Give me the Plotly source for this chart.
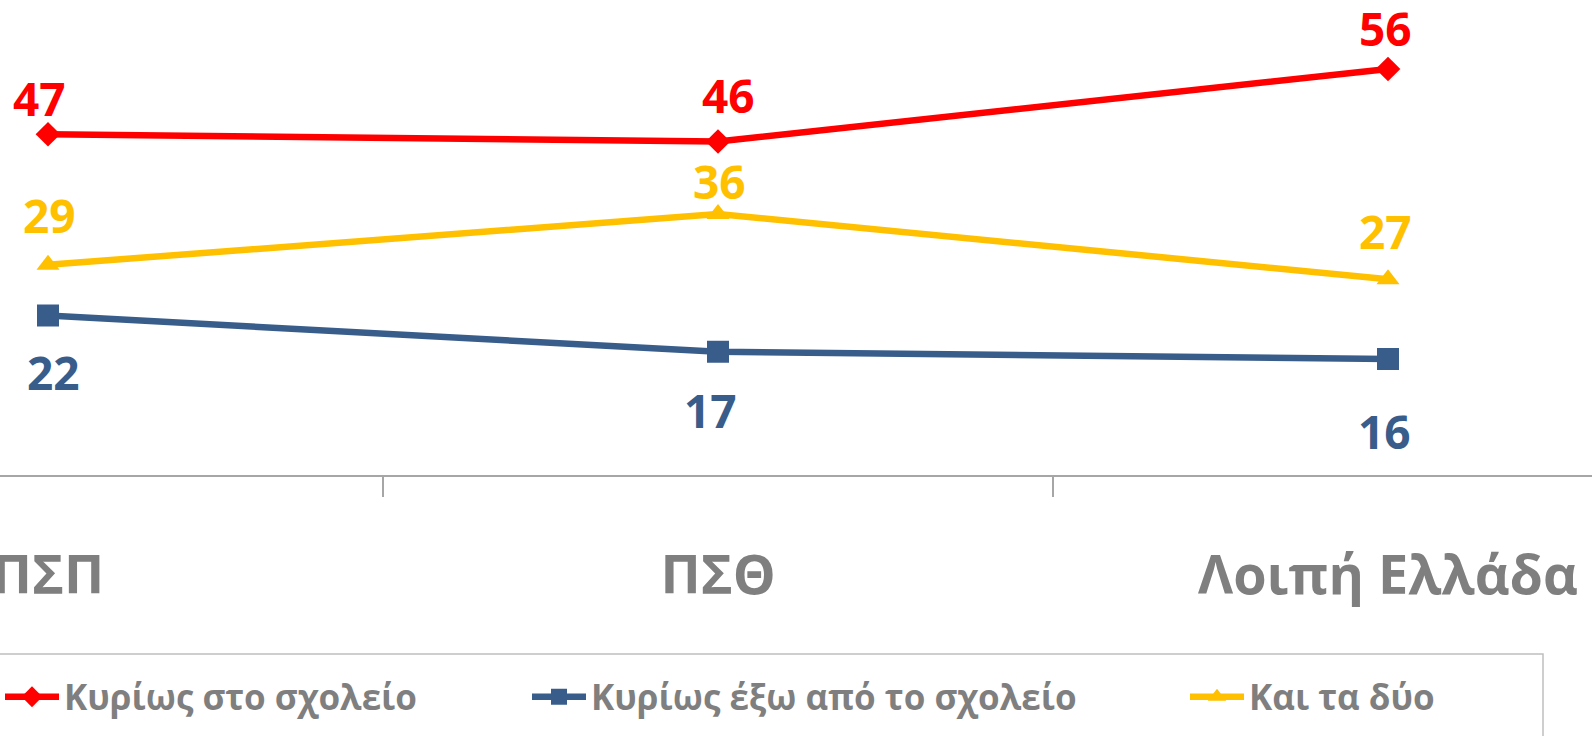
import plotly.graph_objects as go

# ---- data ----
categories = ["ΠΣΠ", "ΠΣΘ", "Λοιπή Ελλάδα"]
series_names = ["Κυρίως στο σχολείο", "Κυρίως έξω από το σχολείο", "Και τα δύο"]
in_school = [47, 46, 56]
out_school = [22, 17, 16]
both = [29, 36, 27]

# ---- style ----
W, H = 1592, 736
FONT = "Open Sans"
GRAY = "#7f7f7f"
AXIS_GRAY = "#a6a6a6"
colors = ["#ff0000", "#385d8a", "#ffc000"]
symbols = ["diamond", "square", "triangle-up"]
msizes = [19, 22, 20]
# per-point data-label offsets in px (dx, dy) as placed in the original
label_offsets = [
    [(-9, 36), (10, 47), (-3, 41)],
    [(5, -56), (-8, -58), (-4, -72)],
    [(1, 50), (1, 33), (-3, 48)],
]
legend_x_px = [0, 527, 1185]

all_values = [in_school, out_school, both]

fig = go.Figure()
for i, (name, vals) in enumerate(zip(series_names, all_values)):
    fig.add_trace(go.Scatter(
        x=categories, y=vals, name=name, mode="lines+markers",
        line=dict(color=colors[i], width=6.5),
        marker=dict(symbol=symbols[i], size=msizes[i], color=colors[i]),
        legend="legend" if i == 0 else f"legend{i+1}",
        cliponaxis=False,
    ))
    for j, (c, v) in enumerate(zip(categories, vals)):
        dx, dy = label_offsets[i][j]
        fig.add_annotation(
            x=c, y=v, text=str(v), showarrow=False,
            xshift=dx, yshift=dy,
            font=dict(family=FONT, size=46, color=colors[i], weight="bold"),
        )

x0_px, step_px = 48, 670
y0_px, unit_px = 475, 7.25

legend_common = dict(
    orientation="h", xanchor="left", yanchor="middle",
    y=1 - 697 / H, itemwidth=54, borderwidth=0,
    bgcolor="rgba(0,0,0,0)",
    font=dict(family=FONT, size=35, color=GRAY, weight="bold"),
)
layout_legends = {}
for i in range(3):
    key = "legend" if i == 0 else f"legend{i+1}"
    layout_legends[key] = dict(legend_common, x=legend_x_px[i] / W)

fig.update_layout(
    template="none",
    width=W, height=H,
    margin=dict(l=0, r=0, t=0, b=0, autoexpand=False),
    paper_bgcolor="white", plot_bgcolor="white",
    showlegend=True,
    xaxis=dict(
        type="category", automargin=False,
        range=[-x0_px / step_px, (W - x0_px) / step_px],
        showline=True, linecolor=AXIS_GRAY, linewidth=1.5,
        ticks="outside", ticklen=20, tickcolor=AXIS_GRAY, tickwidth=1.5,
        tickson="boundaries", showgrid=False, zeroline=False,
        tickfont=dict(family=FONT, size=54, color=GRAY, weight="bold"),
        ticklabelstandoff=52,
    ),
    yaxis=dict(
        domain=[(H - y0_px) / H, 1], automargin=False,
        range=[0, y0_px / unit_px],
        visible=False, showgrid=False, zeroline=False,
    ),
    shapes=[dict(
        type="rect", xref="paper", yref="paper",
        x0=-20 / W, x1=1543 / W, y0=-0.2, y1=1 - 654 / H,
        line=dict(color="#bfbfbf", width=1.5), fillcolor="rgba(0,0,0,0)",
        layer="below",
    )],
    **layout_legends,
)

fig.write_html(
    "out.html",
    config={"displayModeBar": False},
    post_script="document.body.style.margin='0px';document.body.style.overflow='hidden';",
)
